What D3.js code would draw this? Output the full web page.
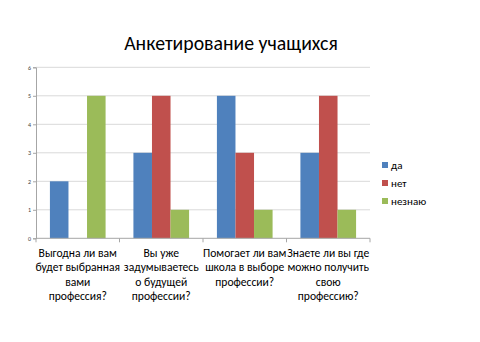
<!DOCTYPE html>
<html><head><meta charset="utf-8">
<script src="https://cdn.jsdelivr.net/npm/d3@7"></script>
<style>body{margin:0;background:#fff}svg{display:block}</style>
</head><body>
<svg id="c" width="480" height="342"></svg>
<script>
const categories = [
  ["Выгодна ли вам","будет выбранная","вами","профессия?"],
  ["Вы уже","задумываетесь","о будущей","профессии?"],
  ["Помогает ли вам","школа в выборе","профессии?"],
  ["Знаете ли вы где","можно получить","свою","профессию?"]
];
const seriesNames = ["да","нет","незнаю"];
const seriesColors = ["#4F81BD","#C0504D","#9BBB59"];
const valuesDa = [2,3,5,3];
const valuesNet = [0,5,3,5];
const valuesNeznayu = [5,1,1,1];
const yTicks = [0,1,2,3,4,5,6];
const title = "Анкетирование учащихся";

const seriesValues = [valuesDa, valuesNet, valuesNeznayu];
const svg = d3.select("#c");
const font = "Calibri, Carlito, 'Open Sans', 'DejaVu Sans', sans-serif";
const L = 36, R = 370, T = 67.3, B = 238.3;

const x0 = d3.scaleBand().domain(d3.range(categories.length)).range([L, R]).paddingInner(0).paddingOuter(0);
const x1 = d3.scaleBand().domain(d3.range(seriesNames.length)).range([0, x0.bandwidth()]).paddingInner(0).paddingOuter(0.75);
const y = d3.scaleLinear().domain([0, 6]).range([B, T]);

// gridlines
svg.append("g").selectAll("line").data(yTicks.filter(d => d > 0)).join("line")
  .attr("x1", L).attr("x2", R).attr("y1", d => y(d)).attr("y2", d => y(d))
  .attr("stroke", "#D9D9D9").attr("stroke-width", 1);

// bars
seriesNames.forEach((s, si) => {
  svg.append("g").selectAll("rect").data(seriesValues[si]).join("rect")
    .attr("x", (d, i) => x0(i) + x1(si))
    .attr("width", x1.bandwidth())
    .attr("y", d => y(d))
    .attr("height", d => B - y(d))
    .attr("fill", seriesColors[si]);
});

// y axis
const yAxis = d3.axisLeft(y).tickValues(yTicks).tickSize(3).tickFormat(d3.format("d"));
const gy = svg.append("g").attr("transform", `translate(${L},0)`).call(yAxis);
gy.select(".domain").attr("stroke", "#A6A6A6");
gy.selectAll(".tick line").attr("stroke", "#A6A6A6");
gy.selectAll(".tick text").attr("font-size", 6).attr("fill", "#404040").attr("font-family", font).attr("x", -5);

// x axis
const gx = svg.append("g").attr("transform", `translate(0,${B})`);
gx.append("line").attr("x1", L).attr("x2", R).attr("stroke", "#A6A6A6");
gx.selectAll("line.t").data(d3.range(categories.length + 1)).join("line").attr("class","t")
  .attr("x1", i => L + i * x0.step()).attr("x2", i => L + i * x0.step())
  .attr("y1", 0).attr("y2", 4).attr("stroke", "#A6A6A6");

// category labels
categories.forEach((lines, i) => {
  const t = svg.append("text").attr("text-anchor", "middle")
    .attr("font-family", font).attr("font-size", 11.6).attr("fill", "#000");
  lines.forEach((ln, j) => {
    t.append("tspan").attr("x", x0(i) + x0.bandwidth() / 2).attr("y", 256.5 + j * 14.6).text(ln);
  });
});

// title
svg.append("text").attr("x", 231).attr("y", 50).attr("text-anchor", "middle")
  .attr("font-family", font).attr("font-size", 19.8).attr("fill", "#000").text(title);

// legend
const lg = svg.append("g");
seriesNames.forEach((s, i) => {
  const cy = 165 + i * 18;
  lg.append("rect").attr("x", 382).attr("y", cy - 3).attr("width", 6).attr("height", 6).attr("fill", seriesColors[i]);
  lg.append("text").attr("x", 391).attr("y", cy + 3.8).attr("font-family", font).attr("font-size", 11).attr("fill", "#000").text(s);
});
</script>
</body></html>
